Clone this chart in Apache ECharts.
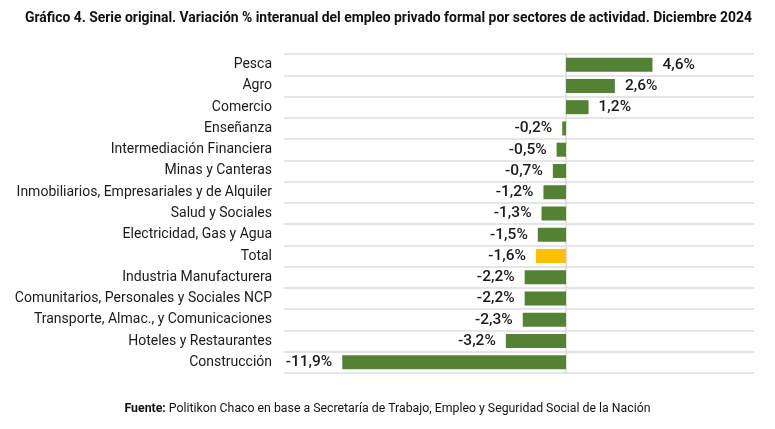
<!DOCTYPE html>
<html>
<head>
<meta charset="utf-8">
<script src="https://cdn.jsdelivr.net/npm/echarts@6/dist/echarts.min.js"></script>
<style>
  html, body { margin: 0; padding: 0; background: #fff; }
  #chart { width: 775px; height: 429px; }
</style>
</head>
<body>
<div id="chart"></div>
<script>
const sectores = [
    'Pesca', 'Agro', 'Comercio', 'Enseñanza', 'Intermediación Financiera',
    'Minas y Canteras', 'Inmobiliarios, Empresariales y de Alquiler', 'Salud y Sociales',
    'Electricidad, Gas y Agua', 'Total', 'Industria Manufacturera',
    'Comunitarios, Personales y Sociales NCP', 'Transporte, Almac., y Comunicaciones',
    'Hoteles y Restaurantes', 'Construcción'
]
const variacion = [4.6, 2.6, 1.2, -0.2, -0.5, -0.7, -1.2, -1.3, -1.5, -1.6, -2.2, -2.2, -2.3, -3.2, -11.9]

const verde = '#548235'
const amarillo = '#FFC000'
const font = 'Roboto'

const chart = echarts.init(document.getElementById('chart'))

const option = {
    backgroundColor: '#fff',
    animation: false,
    title: {
        text: 'Gráfico 4. Serie original. Variación % interanual del empleo privado formal por sectores de actividad. Diciembre 2024',
        left: 20,
        top: 7,
        textStyle: { fontFamily: font, fontSize: 13.9, fontWeight: 'bold', color: '#111' }
    },
    graphic: [{
        type: 'text',
        left: 'center',
        top: 403,
        style: {
            text: '{b|Fuente:} Politikon Chaco en base a Secretaría de Trabajo, Empleo y Seguridad Social de la Nación',
            fontFamily: font,
            fontSize: 12.3,
            fill: '#111',
            rich: {
                b: { fontFamily: font, fontSize: 12.3, fontWeight: 'bold', fill: '#111' }
            }
        }
    }],
    grid: {
        left: 284,
        right: 21,
        top: 54,
        bottom: 56,
        containLabel: false
    },
    xAxis: {
        type: 'value',
        min: -15,
        max: 10,
        show: false,
        splitLine: { show: false }
    },
    yAxis: {
        type: 'category',
        data: sectores,
        inverse: true,
        axisLine: { show: true, onZero: true, lineStyle: { color: '#d9d9d9', width: 1.5 } },
        axisTick: { show: false },
        axisLabel: {
            interval: 0,
            margin: 12,
            fontFamily: font,
            fontSize: 14,
            color: '#1a1a1a'
        },
        splitLine: {
            show: true,
            interval: 0,
            lineStyle: { color: '#dcdcdc', width: 1.5 }
        }
    },
    series: [{
        type: 'bar',
        barWidth: 14,
        data: variacion.map((v, i) => ({
            value: v,
            itemStyle: { color: sectores[i] === 'Total' ? amarillo : verde },
            label: { position: v < 0 ? 'left' : 'right' }
        })),
        label: {
            show: true,
            distance: 10,
            fontFamily: font,
            fontSize: 15.5,
            fontWeight: 500,
            color: '#1a1a1a',
            formatter: p => p.value.toFixed(1).replace('.', ',') + '%'
        }
    }]
}

chart.setOption(option)
</script>
</body>
</html>
